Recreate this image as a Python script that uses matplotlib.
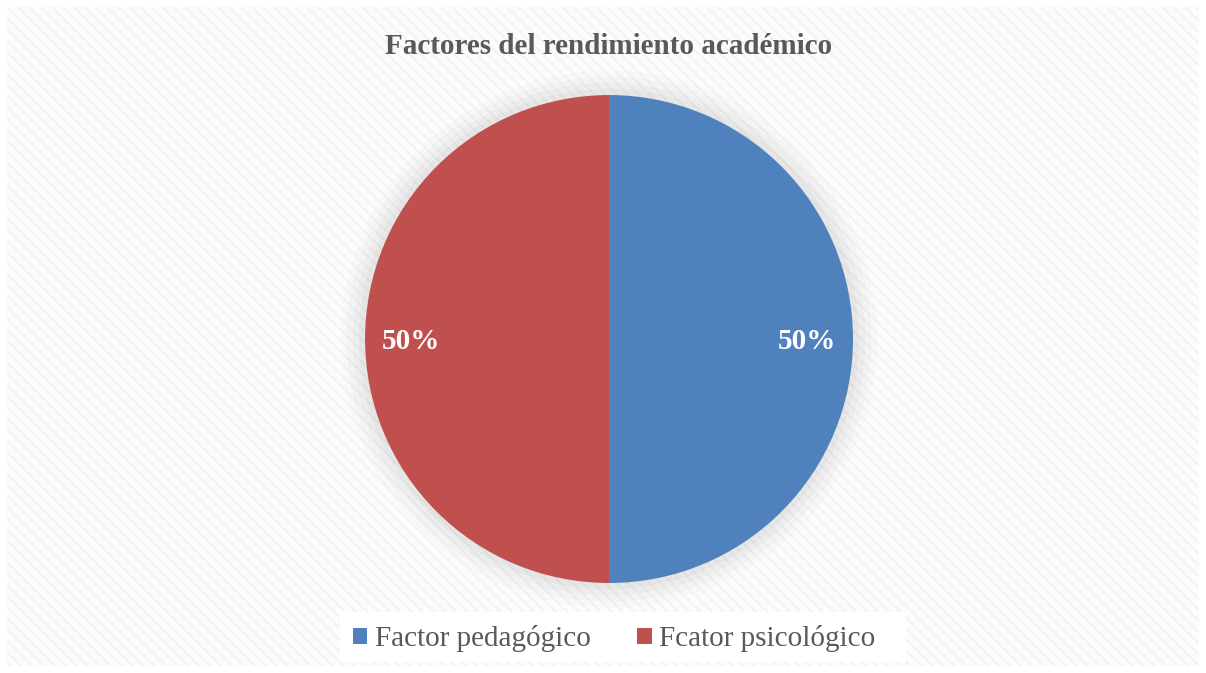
import numpy as np
import matplotlib.pyplot as plt
from matplotlib.patches import Rectangle, Circle

labels = ["Factor pedagógico", "Fcator psicológico"]
values = [50, 50]
colors = ["#4F81BD", "#C0504D"]
title = "Factores del rendimiento académico"

plt.rcParams['font.family'] = ['Liberation Serif', 'DejaVu Serif']

fig = plt.figure(figsize=(12.06, 6.73), dpi=100)
fig.patch.set_facecolor("white")

# fondo con trama diagonal
bg = fig.add_axes([0, 0, 1, 1])
bg.set_xlim(0, 1206)
bg.set_ylim(673, 0)
bg.axis("off")
bg.add_patch(Rectangle((7, 7), 1192, 659, facecolor="#fcfcfc", edgecolor="#f0f0f0",
                       hatch="\\\\\\", linewidth=0))
# caja blanca de la leyenda
bg.add_patch(Rectangle((340, 612), 566, 50, facecolor="white", edgecolor="none"))

bg.text(609, 47, title, ha="center", va="center", fontsize=21, fontweight="bold",
        color="#595959")

ax = fig.add_axes([0.3027, 0.1337, 0.4046, 0.7251])
ax.set_xlim(-1, 1)
ax.set_ylim(-1, 1)
ax.set_aspect("equal")
ax.axis("off")

# sombra difusa
for r, a in [(1.10, 0.025), (1.075, 0.035), (1.05, 0.045), (1.025, 0.06)]:
    ax.add_patch(Circle((0, 0), r, facecolor="#777777", alpha=a, edgecolor="none",
                        clip_on=False))

wedges, texts, autotexts = ax.pie(values, colors=colors, startangle=90, counterclock=False,
                                  radius=1, autopct="%d%%", pctdistance=0.81,
                                  wedgeprops=dict(linewidth=0),
                                  textprops=dict(color="white", fontsize=21, fontweight="bold"))
for t in autotexts:
    t.set_y(t.get_position()[1] - 0.01)
ax.set_xlim(-1, 1)
ax.set_ylim(-1, 1)

fig.legend(wedges, labels, loc="center", bbox_to_anchor=(614 / 1206, 1 - 639 / 673),
           ncol=2, frameon=False, fontsize=21, handlelength=0.5, handleheight=0.5,
           handletextpad=0.25, columnspacing=1.6, labelcolor="#595959")

plt.savefig("out.png", dpi=100)
